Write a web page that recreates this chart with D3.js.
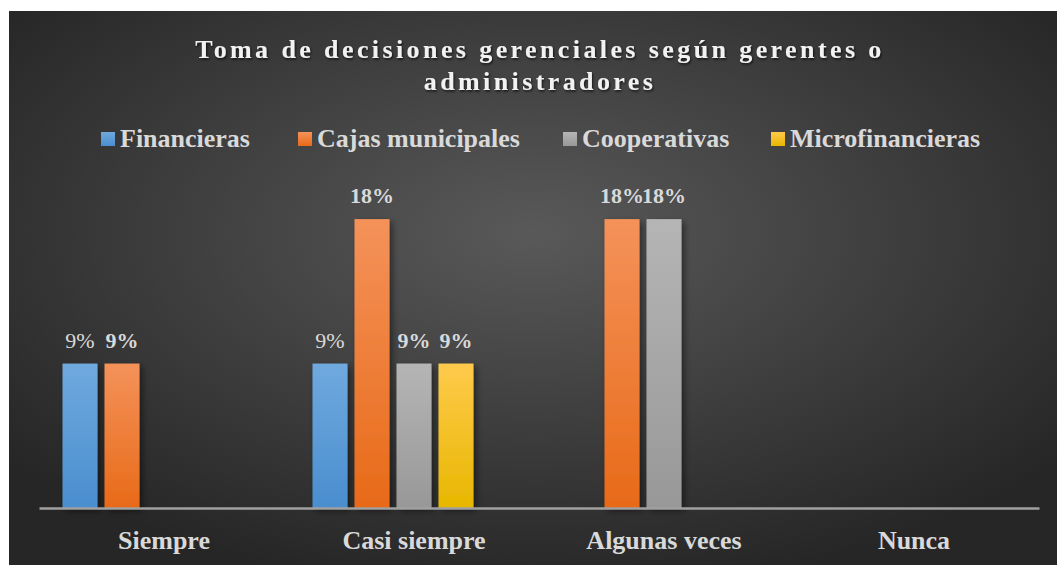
<!DOCTYPE html>
<html>
<head>
<meta charset="utf-8">
<script src="https://cdn.jsdelivr.net/npm/d3@7"></script>
<style>
  body { margin: 0; background: #fff; }
  svg { display: block; }
  text { font-family: "Liberation Serif", "Times New Roman", serif; }
</style>
</head>
<body>
<svg id="chart" width="1057" height="565"></svg>
<script>
// data
var categories = ["Siempre", "Casi siempre", "Algunas veces", "Nunca"];
var series = ["Financieras", "Cajas municipales", "Cooperativas", "Microfinancieras"];
var financieras = [0.09, 0.09, null, null];
var cajas = [0.09, 0.18, 0.18, null];
var cooperativas = [null, 0.09, 0.18, null];
var microfinancieras = [null, 0.09, null, null];
var values = [financieras, cajas, cooperativas, microfinancieras];

var colors = [
  ["#6fa9de", "#4a8ecf"],
  ["#f4925a", "#e86a18"],
  ["#b5b5b5", "#989898"],
  ["#ffca4c", "#e7b700"]
];

var svg = d3.select("#chart");
var defs = svg.append("defs");

// background
var bg = defs.append("radialGradient").attr("id", "bg")
  .attr("cx", "50%").attr("cy", "40%").attr("r", "65%");
bg.append("stop").attr("offset", "0%").attr("stop-color", "#595959");
bg.append("stop").attr("offset", "100%").attr("stop-color", "#262626");
svg.append("rect").attr("x", 9).attr("y", 11).attr("width", 1048).attr("height", 554).attr("fill", "url(#bg)");

colors.forEach(function(c, i) {
  var g = defs.append("linearGradient").attr("id", "bar" + i)
    .attr("x1", 0).attr("y1", 0).attr("x2", 0).attr("y2", 1);
  g.append("stop").attr("offset", "0%").attr("stop-color", c[0]);
  g.append("stop").attr("offset", "100%").attr("stop-color", c[1]);
});

var shadow = defs.append("filter").attr("id", "shadow")
  .attr("x", "-30%").attr("y", "-10%").attr("width", "160%").attr("height", "130%");
shadow.append("feDropShadow").attr("dx", 3).attr("dy", 3).attr("stdDeviation", 3)
  .attr("flood-color", "#000").attr("flood-opacity", 0.45);

var tshadow = defs.append("filter").attr("id", "tshadow");
tshadow.append("feDropShadow").attr("dx", 1).attr("dy", 1.5).attr("stdDeviation", 1.2)
  .attr("flood-color", "#000").attr("flood-opacity", 0.7);

// scales
var x0 = d3.scaleBand().domain(categories).range([39, 1039]);
var x1 = d3.scaleBand().domain(series.concat([""]))   // one empty slot, as in the original
  .range([0, x0.bandwidth()]).paddingInner(7 / 42).paddingOuter(0.56);
var y = d3.scaleLinear().domain([0, 0.2]).range([508, 187]);

// title
var title = svg.append("text")
  .attr("text-anchor", "middle")
  .attr("fill", "#f2f2f2")
  .attr("font-size", 26).attr("font-weight", "bold")
  .attr("letter-spacing", 3.4)
  .attr("filter", "url(#tshadow)");
title.append("tspan").attr("x", 540).attr("y", 58).text("Toma de decisiones gerenciales según gerentes o");
title.append("tspan").attr("x", 540).attr("y", 90).text("administradores");

// legend
var legendX = [101, 298, 563, 771];
var legend = svg.append("g");
series.forEach(function(s, i) {
  legend.append("rect").attr("x", legendX[i]).attr("y", 132).attr("width", 14).attr("height", 14)
    .attr("fill", "url(#bar" + i + ")");
  legend.append("text").attr("x", legendX[i] + 19).attr("y", 147)
    .attr("fill", "#d9d9d9").attr("font-size", 26).attr("font-weight", "bold")
    .text(s);
});

// bars
var groups = svg.selectAll("g.series").data(series).enter().append("g").attr("class", "series");
groups.each(function(s, i) {
  var pts = categories.map(function(c, j) { return { cat: c, v: values[i][j] }; })
    .filter(function(d) { return d.v != null; });
  var g = d3.select(this);
  g.selectAll("rect").data(pts).enter().append("rect")
    .attr("x", function(d) { return x0(d.cat) + x1(s); })
    .attr("y", function(d) { return y(d.v); })
    .attr("width", x1.bandwidth())
    .attr("height", function(d) { return y(0) - y(d.v); })
    .attr("fill", "url(#bar" + i + ")")
    .attr("filter", "url(#shadow)");
  g.selectAll("text").data(pts).enter().append("text")
    .attr("x", function(d) { return x0(d.cat) + x1(s) + x1.bandwidth() / 2; })
    .attr("y", function(d) { return y(d.v) - 16; })
    .attr("text-anchor", "middle")
    .attr("fill", "#d9d9d9")
    .attr("font-size", 22)
    .attr("font-weight", i === 0 ? "normal" : "bold")
    .text(function(d) { return d3.format(".0%")(d.v); });
});

// axis
var axis = svg.append("g").attr("transform", "translate(0," + y(0) + ")")
  .call(d3.axisBottom(x0).tickSize(0).tickPadding(23));
axis.select(".domain").attr("stroke", "#a0a0a0").attr("stroke-width", 2.5);
axis.selectAll("text")
  .attr("fill", "#d9d9d9")
  .attr("font-size", 26).attr("font-weight", "bold")
  .attr("font-family", "Liberation Serif, Times New Roman, serif");
</script>
</body>
</html>
